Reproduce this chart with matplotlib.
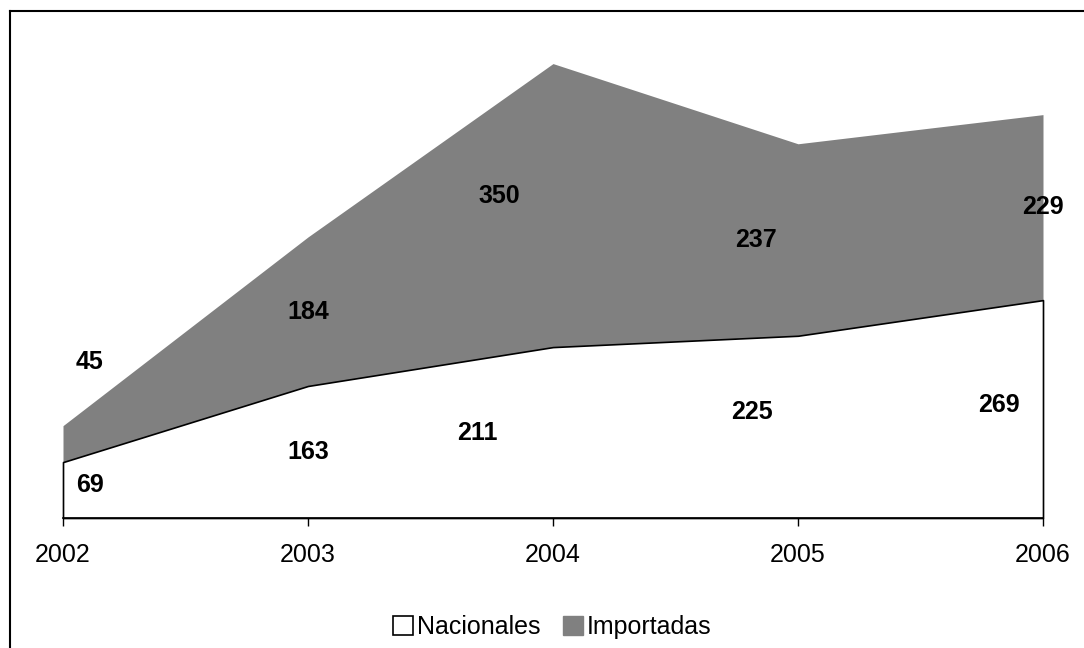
import matplotlib

matplotlib.use("Agg")
import matplotlib.pyplot as plt  # noqa: E402
import numpy as np  # noqa: E402
from matplotlib.lines import Line2D  # noqa: E402
from matplotlib.patches import Patch  # noqa: E402

years = [2002, 2003, 2004, 2005, 2006]
nacionales = [69, 163, 211, 225, 269]
importadas = [45, 184, 350, 237, 229]

# where the value labels sit (data coords)
nac_label_x = [2002.11, 2003.0, 2003.69, 2004.81, 2005.82]
nac_label_y = [41, 82, 105, 131, 140]
imp_label_x = [2002.11, 2003.0, 2003.78, 2004.83, 2006.0]
imp_label_y = [193, 254, 398, 343, 384]

plt.rcParams["font.family"] = ["Liberation Sans", "DejaVu Sans"]

fig = plt.figure(figsize=(10.84, 6.48), dpi=100)
ax = fig.add_axes([63 / 1084, 130 / 648, 980 / 1084, 486 / 648])

nac = np.array(nacionales)
total = nac + np.array(importadas)

ax.fill_between(years, nac, total, color="#808080", linewidth=0, clip_on=False)
ax.fill_between(years, 0, nac, facecolor="white", edgecolor="black", linewidth=1.2, clip_on=False)

for x, y, v in zip(nac_label_x, nac_label_y, nacionales):
    ax.text(x, y, str(v), ha="center", va="center", fontsize=18, fontweight="bold")
for x, y, v in zip(imp_label_x, imp_label_y, importadas):
    ax.text(x, y, str(v), ha="center", va="center", fontsize=18, fontweight="bold")

ax.set_xlim(2002, 2006)
ax.set_ylim(0, 600)
ax.set_xticks(years)
ax.set_xticklabels([str(y) for y in years], fontsize=18)
ax.tick_params(axis="x", direction="out", length=6, width=1, pad=12)
ax.set_yticks([])
for side in ("left", "right", "top"):
    ax.spines[side].set_visible(False)
ax.spines["bottom"].set_linewidth(1.2)
ax.patch.set_alpha(0)

handles = [
    Patch(facecolor="white", edgecolor="black", linewidth=1.2, label="Nacionales"),
    Patch(facecolor="#808080", edgecolor="#808080", label="Importadas"),
]
fig.legend(
    handles=handles,
    loc="center",
    bbox_to_anchor=(552 / 1084, 21 / 648),
    ncol=2,
    frameon=False,
    fontsize=18,
    handlelength=0.8,
    handleheight=0.8,
    handletextpad=0.15,
    columnspacing=0.9,
)

# outer chart border (top and left edges are visible)
fig.add_artist(Line2D([10 / 1084, 1], [1 - 11 / 648, 1 - 11 / 648], color="black", linewidth=1.5))
fig.add_artist(Line2D([10 / 1084, 10 / 1084], [0, 1 - 11 / 648], color="black", linewidth=1.5))

fig.savefig("out.png", dpi=100)
plt.close(fig)
